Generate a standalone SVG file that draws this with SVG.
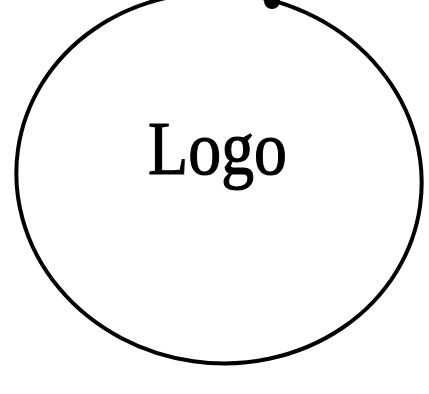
<svg xmlns="http://www.w3.org/2000/svg" width="429" height="394" viewBox="0 0 429 394">
<style>
.shape{fill:none;stroke:#000;stroke-width:4}
.lbl{font-family:"Liberation Serif","DejaVu Serif",serif;font-size:76px;fill:#000;stroke:#000;stroke-width:1.2}
</style>
<rect width="429" height="394" fill="#fff"/>
<g id="logo">
<ellipse class="shape" cx="219" cy="178" rx="203" ry="185" transform="rotate(8 219 178)"/>
<circle cx="272" cy="1" r="8" fill="#000"/>
<text class="lbl" x="148" y="174" textLength="139" lengthAdjust="spacingAndGlyphs">Logo</text>
</g>
</svg>
